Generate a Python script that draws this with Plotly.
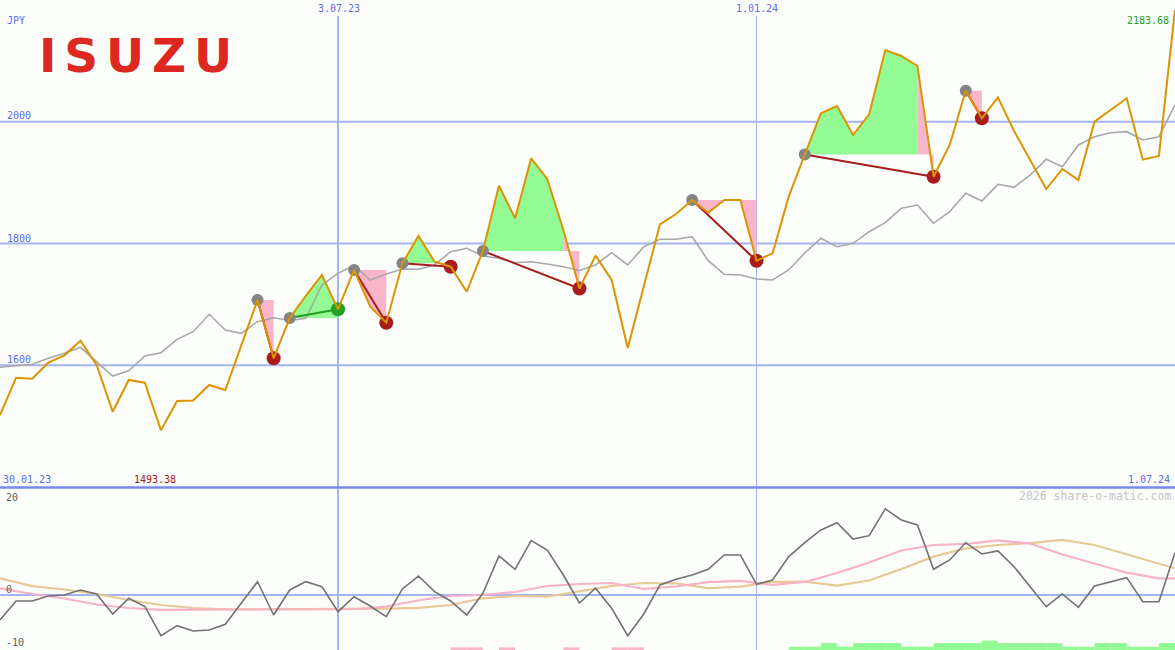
import pandas as pd
import plotly.graph_objects as go

# ---------------- data ----------------
start_date = "2023-02-06"
n_weeks = 74
dates = pd.date_range(start_date, periods=n_weeks, freq="7D")

price = [1518.3, 1579.6, 1577.9, 1604.2, 1616.3, 1640.3, 1600.4, 1523.7, 1575.8, 1571.3,
         1493.38, 1541.3, 1542.0, 1567.6, 1559.3, 1633.3, 1707.2, 1611.4, 1677.6, 1713.8,
         1748.3, 1691.9, 1756.5, 1696.2, 1669.9, 1767.5, 1812.3, 1770.1, 1761.9, 1720.8,
         1787.7, 1894.9, 1841.4, 1940.0, 1906.0, 1822.2, 1726.1, 1780.0, 1740.0, 1628.3,
         1730.2, 1831.5, 1848.5, 1871.5, 1850.6, 1871.5, 1871.5, 1771.7, 1783.9, 1876.9,
         1946.2, 2013.9, 2025.9, 1978.2, 2012.2, 2117.9, 2108.0, 2091.6, 1909.7, 1961.8,
         2051.0, 2005.7, 2040.2, 1984.8, 1937.2, 1889.5, 1922.4, 1904.3, 2000.1, 2019.3,
         2038.5, 1937.7, 1943.7, 2183.68]

moving_avg = [1596.6, 1598.8, 1601.6, 1611.4, 1619.6, 1629.5, 1605.8, 1582.3, 1591.0, 1615.2,
              1620.6, 1642.6, 1655.1, 1683.7, 1657.9, 1652.5, 1671.5, 1678.1, 1673.5, 1677.1,
              1731.8, 1751.0, 1763.9, 1740.0, 1749.9, 1758.1, 1757.6, 1764.7, 1786.5, 1792.1,
              1779.5, 1775.7, 1768.5, 1770.1, 1766.3, 1761.9, 1755.6, 1764.7, 1784.9, 1764.7,
              1794.7, 1806.9, 1806.9, 1811.2, 1771.7, 1749.4, 1748.3, 1741.7, 1740.0, 1756.5,
              1784.4, 1808.5, 1794.7, 1800.3, 1819.4, 1834.2, 1857.8, 1863.2, 1833.2, 1852.2,
              1882.5, 1869.8, 1897.2, 1892.3, 1912.5, 1938.3, 1926.2, 1961.8, 1975.4, 1982.0,
              1983.7, 1970.0, 1975.4, 2027.5]

oscillator = [-4.69, -1.13, -1.13, -0.19, 0.0, 0.94, 0.19, -3.56, -0.62, -2.19,
              -7.64, -5.76, -6.75, -6.57, -5.5, -1.56, 2.5, -3.75, 0.94, 2.5,
              1.56, -3.13, -0.32, -2.06, -4.07, 1.13, 3.56, 0.62, -1.13, -3.75,
              0.32, 7.32, 4.82, 10.19, 8.44, 3.75, -1.5, 1.26, -2.5, -7.64,
              -3.56, 1.88, 2.95, 3.75, 4.82, 7.5, 7.5, 2.0, 2.81, 7.19,
              9.81, 12.2, 13.56, 10.5, 11.13, 16.14, 14.07, 13.13, 4.82, 6.57,
              9.81, 7.69, 8.26, 5.31, 1.56, -2.19, 0.19, -2.31, 1.69, 2.5,
              3.25, -1.26, -1.26, 7.94]

smooth_weeks = [0, 2, 4, 6, 8, 10, 12, 14, 16, 18, 20, 22, 24, 26, 28, 30, 32, 34, 36,
                38, 40, 42, 44, 46, 48, 50, 52, 54, 56, 58, 60, 62, 64, 66, 68, 70, 72, 73]
osc_slow = [3.13, 1.65, 1.03, 0.19, -0.94, -1.88, -2.44, -2.68, -2.68, -2.68, -2.68, -2.68,
            -2.55, -2.4, -1.88, -0.62, -0.19, -0.32, 0.75, 1.69, 2.25, 2.16, 1.26, 1.56,
            2.44, 2.5, 1.74, 2.72, 4.88, 7.19, 8.76, 9.38, 9.72, 10.32, 9.38, 7.6, 5.82, 5.01]
osc_mid = [1.26, 0.19, -0.66, -1.78, -2.44, -2.81, -2.75, -2.75, -2.75, -2.75, -2.75, -2.68,
           -2.16, -0.99, -0.19, 0.0, 0.56, 1.69, 2.06, 2.25, 1.13, 1.59, 2.4, 2.63,
           1.88, 2.44, 4.13, 6.1, 8.35, 9.38, 9.57, 10.23, 9.66, 7.6, 5.91, 4.18, 3.13, 3.13]

signal_start = [16, 18, 22, 25, 30, 43, 50, 60]
signal_end = [17, 21, 24, 28, 36, 47, 58, 61]
signal_result = ["loss", "gain", "loss", "loss", "loss", "loss", "loss", "loss"]

green_bar_weeks = [49, 50, 51, 52, 53, 54, 55, 56, 57, 58, 59, 60, 61, 62, 63, 64, 65,
                   66, 67, 68, 69, 70, 71, 72]
green_bar_h = [0.62, 0.62, 1.31, 0.62, 1.31, 1.31, 1.31, 0.62, 0.62, 1.31, 1.31, 1.31,
               1.75, 1.31, 1.31, 1.31, 1.31, 0.62, 0.62, 1.31, 1.31, 0.62, 0.62, 1.31]
pink_bar_weeks = [28, 29, 31, 35, 38, 39]
pink_bar_h = [0.5, 0.5, 0.5, 0.5, 0.5, 0.5]

grid_prices = [1600, 1800, 2000]
date_marks = ["2023-07-03", "2024-01-01"]
date_mark_labels = ["3.07.23", "1.01.24"]
price_range = [1400, 2200]
osc_range = [-10.32, 20.07]

# ---------------- style ----------------
W, H = 1175, 650
BG = "#fcfefc"
GRID = "#a4b4f2"
BLUE_TXT = "#5b6cf0"
ORANGE = "#dc9400"
GREEN_FILL = "#94fa94"
PINK_FILL = "#f9b6ca"
DARK_RED = "#a81c1c"
GREEN_DOT = "#22a022"
MONO = "DejaVu Sans Mono"

main_bottom = 1 - 487 / H
lower_top = 1 - 488 / H

fig = go.Figure()

# signal fills: group consecutive segments of the same colour into one polygon
for s, e, res in zip(signal_start, signal_end, signal_result):
    level = price[s]
    runs = []
    for k in range(s, e):
        a, b = price[k], price[k + 1]
        below = b < level or (b == level and a < level)
        if runs and runs[-1][0] == below:
            runs[-1][2] = k + 1
        else:
            runs.append([below, k, k + 1])
    for below, k0, k1 in runs:
        xs = [dates[k0]] + [dates[k] for k in range(k0, k1 + 1)] + [dates[k1]]
        ys = [level] + [price[k] for k in range(k0, k1 + 1)] + [level]
        fig.add_trace(go.Scatter(
            x=xs, y=ys, fill="toself",
            fillcolor=PINK_FILL if below else GREEN_FILL,
            mode="lines", line=dict(width=0, color=PINK_FILL if below else GREEN_FILL),
            hoverinfo="skip"))

# moving average
fig.add_trace(go.Scatter(x=dates, y=moving_avg, mode="lines",
                         line=dict(color="#a8a8a8", width=1.6), hoverinfo="skip"))

# connectors and markers
for s, e, res in zip(signal_start, signal_end, signal_result):
    level = price[s]
    col = GREEN_DOT if res == "gain" else DARK_RED
    fig.add_trace(go.Scatter(x=[dates[s], dates[e]], y=[level, price[e]], mode="lines",
                             line=dict(color=col, width=2), hoverinfo="skip"))
    fig.add_trace(go.Scatter(x=[dates[s]], y=[level], mode="markers",
                             marker=dict(color="#858585", size=12), hoverinfo="skip"))
    fig.add_trace(go.Scatter(x=[dates[e]], y=[price[e]], mode="markers",
                             marker=dict(color=col, size=14), hoverinfo="skip"))

# price line
fig.add_trace(go.Scatter(x=dates, y=price, mode="lines",
                         line=dict(color=ORANGE, width=2), hoverinfo="skip"))

# lower panel
day_ms = 86400000
fig.add_trace(go.Bar(x=[dates[i] + pd.Timedelta(days=3.5) for i in green_bar_weeks],
                     y=green_bar_h, base=osc_range[0], width=7 * day_ms,
                     marker=dict(color=GREEN_FILL, line=dict(width=0)),
                     xaxis="x2", yaxis="y2", hoverinfo="skip"))
fig.add_trace(go.Bar(x=[dates[i] + pd.Timedelta(days=3.5) for i in pink_bar_weeks],
                     y=pink_bar_h, base=osc_range[0], width=7 * day_ms,
                     marker=dict(color=PINK_FILL, line=dict(width=0)),
                     xaxis="x2", yaxis="y2", hoverinfo="skip"))
sw_dates = [dates[i] for i in smooth_weeks]
fig.add_trace(go.Scatter(x=sw_dates, y=osc_slow, mode="lines",
                         line=dict(color="#e8c996", width=2.2), xaxis="x2", yaxis="y2",
                         hoverinfo="skip"))
fig.add_trace(go.Scatter(x=sw_dates, y=osc_mid, mode="lines",
                         line=dict(color="#f8b2c8", width=2.2), xaxis="x2", yaxis="y2",
                         hoverinfo="skip"))
fig.add_trace(go.Scatter(x=dates, y=oscillator, mode="lines",
                         line=dict(color="#727272", width=1.6), xaxis="x2", yaxis="y2",
                         hoverinfo="skip"))

# ---------------- shapes ----------------
shapes = []
for p in grid_prices:
    shapes.append(dict(type="line", xref="paper", yref="y", x0=0, x1=1, y0=p, y1=p,
                       line=dict(color=GRID, width=2), layer="below"))
shapes.append(dict(type="line", xref="paper", yref="y2", x0=0, x1=1, y0=0, y1=0,
                   line=dict(color=GRID, width=2), layer="below"))
for d, wdt in zip(date_marks, [2, 1]):
    shapes.append(dict(type="line", xref="x", yref="paper", x0=d, x1=d, y0=0, y1=1 - 16 / H,
                       line=dict(color=GRID, width=wdt), layer="below"))
shapes.append(dict(type="line", xref="paper", yref="paper", x0=0, x1=1,
                   y0=1 - 487.5 / H, y1=1 - 487.5 / H,
                   line=dict(color="#7888ee", width=2.5), layer="below"))

# ---------------- annotations ----------------
def ann(text, px, py, anchor="left", color=BLUE_TXT, size=10, family=MONO):
    return dict(text=text, xref="paper", yref="paper", x=px / W, y=1 - py / H,
                xanchor=anchor, yanchor="middle", showarrow=False,
                font=dict(family=family, size=size, color=color))

annotations = [
    ann("JPY", 5, 21),
    ann(date_mark_labels[0], 339, 9, "center"),
    ann(date_mark_labels[1], 757, 9, "center"),
    ann(str(grid_prices[2]), 5, 116),
    ann(str(grid_prices[1]), 5, 238),
    ann(str(grid_prices[0]), 5, 359.5),
    ann(f"{price[-1]:.2f}", 1171, 21, "right", color="#22a022"),
    ann("30.01.23", 1, 479),
    ann(f"{min(price):.2f}", 132, 479, color="#a01818"),
    ann("1.07.24", 1172, 479, "right"),
    ann("2026 share-o-matic.com", 1173, 496, "right", color="#c4c4c4", size=11.5),
    ann("20", 4, 497, color="#606060"),
    ann("0", 4, 589, color="#606060"),
    ann("-10", 4, 642, color="#606060"),
    dict(text="<b>I\u2006S\u2006U\u2006Z\u2006U</b>", xref="paper", yref="paper",
         x=135 / W, y=1 - 55.5 / H, xanchor="center", yanchor="middle", showarrow=False,
         font=dict(family="DejaVu Sans", size=47, color="#dc2820")),
]

x_range = [dates[0], dates[-1]]
fig.update_layout(
    width=W, height=H, margin=dict(l=0, r=0, t=0, b=0),
    paper_bgcolor=BG, plot_bgcolor=BG, showlegend=False, barmode="overlay",
    xaxis=dict(domain=[0, 1], range=x_range, visible=False, anchor="y"),
    yaxis=dict(domain=[main_bottom, 1], range=price_range, visible=False, anchor="x"),
    xaxis2=dict(domain=[0, 1], range=x_range, visible=False, anchor="y2", matches="x"),
    yaxis2=dict(domain=[0, lower_top], range=osc_range, visible=False, anchor="x2"),
    shapes=shapes, annotations=annotations,
)

fig.write_html("out.html", config={"displayModeBar": False},
               post_script="document.body.style.margin='0';document.body.style.overflow='hidden';")
